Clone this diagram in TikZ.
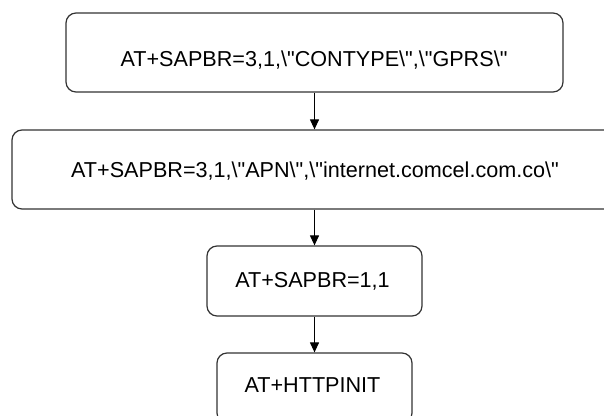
\documentclass[tikz,border=0pt]{standalone}
\usepackage{fontspec}
\setmainfont{Liberation Sans}
\usetikzlibrary{arrows.meta}

\newcommand{\esc}{\textbackslash\textquotedbl}

\tikzset{
    cmdbox/.style={draw=black!80, line width=1.2pt, rounded corners=10pt, inner sep=0pt},
    cmdtext/.style={anchor=base, inner sep=0pt, font=\fontsize{21.6}{26}\selectfont},
    flow/.style={-{Triangle[width=9pt,length=10pt]}, line width=1.1pt}
}

\begin{document}
\begin{tikzpicture}[x=1pt,y=-1pt]
    \useasboundingbox (0,0) rectangle (604,415);
    \clip (0,0) rectangle (604,415);

    % Command boxes
    \node[cmdbox, minimum width=497pt, minimum height=79pt] (contype) at (314.5,52.5) {};
    \node[cmdbox, minimum width=605pt, minimum height=79pt] (apn) at (314.5,169.5) {};
    \node[cmdbox, minimum width=215pt, minimum height=70pt] (bearer) at (314.5,281) {};
    \node[cmdbox, minimum width=195pt, minimum height=70pt] (httpinit) at (314.5,388) {};

    % Commands
    \node[cmdtext] (contypelbl) at (314,66) {AT+SAPBR=3,1,\esc CONTYPE\esc,\esc GPRS\esc};
    \node[cmdtext] (apnlbl) at (315,177) {AT+SAPBR=3,1,\esc APN\esc,\esc internet.comcel.com.co\esc};
    \node[cmdtext] (bearerlbl) at (312.5,287) {AT+SAPBR=1,1};
    \node[cmdtext] (httpinitlbl) at (312.5,392) {AT+HTTPINIT};

    % Flow
    \draw[flow] (contype) -- (apn);
    \draw[flow] (apn) -- (bearer);
    \draw[flow] (bearer) -- (httpinit);
\end{tikzpicture}
\end{document}
